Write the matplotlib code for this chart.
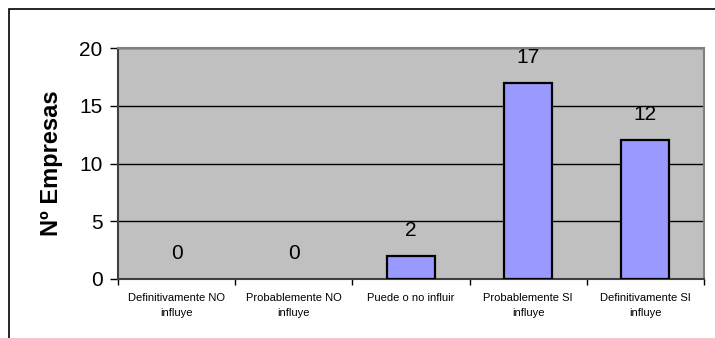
import matplotlib.pyplot as plt
from matplotlib.patches import Rectangle

# DATA

categories = [
    "Definitivamente NO\ninfluye",
    "Probablemente NO\ninfluye",
    "Puede o no influir",
    "Probablemente SI\ninfluye",
    "Definitivamente SI\ninfluye",
]
empresas = [0, 0, 2, 17, 12]
y_ticks = [0, 5, 10, 15, 20]

plt.rcParams["font.family"] = ["Liberation Sans", "DejaVu Sans"]

W, H = 715, 338
fig = plt.figure(figsize=(W / 100, H / 100), dpi=100)
fig.patch.set_facecolor("white")

# outer chart border (only top and left fall inside the image)
fig.patches.append(
    Rectangle((9 / W, -0.2), 1.2, 1.2 - 9 / H, transform=fig.transFigure,
              fill=False, edgecolor="black", linewidth=1.2)
)

ax = fig.add_axes([118 / W, 59 / H, 586 / W, 231 / H])
ax.set_facecolor("#C0C0C0")

x = list(range(len(categories)))
# zero-height bars leave no visible outline
edge_widths = [1.6 if v > 0 else 0 for v in empresas]
ax.bar(x, empresas, width=0.41, color="#9999FF", edgecolor="black",
       linewidth=edge_widths, zorder=3)

for xi, v in zip(x, empresas):
    ax.annotate(str(v), (xi, v), xytext=(0, 16), textcoords="offset pixels",
                ha="center", va="bottom", fontsize=15)

ax.set_xlim(-0.5, len(categories) - 0.5)
ax.set_ylim(0, 20)
ax.set_yticks(y_ticks)
ax.tick_params(axis="y", labelsize=15, length=6, width=1, pad=5)
ax.yaxis.grid(True, color="black", linewidth=1, zorder=1)
ax.set_axisbelow(True)

ax.set_xticks([i - 0.5 for i in range(len(categories) + 1)])
ax.set_xticklabels([])
ax.set_xticks(x, minor=True)
ax.set_xticklabels(categories, minor=True, fontsize=8, linespacing=1.6)
ax.tick_params(axis="x", which="major", length=4, width=1)
ax.tick_params(axis="x", which="minor", length=0, pad=10)

ax.set_ylabel("Nº Empresas", fontsize=17, fontweight="bold", labelpad=12)

for side in ["top", "right"]:
    ax.spines[side].set_color("#808080")
    ax.spines[side].set_linewidth(1.5)
for side in ["left", "bottom"]:
    ax.spines[side].set_color("#404040")
    ax.spines[side].set_linewidth(1.5)

fig.savefig("out.png", dpi=100)
